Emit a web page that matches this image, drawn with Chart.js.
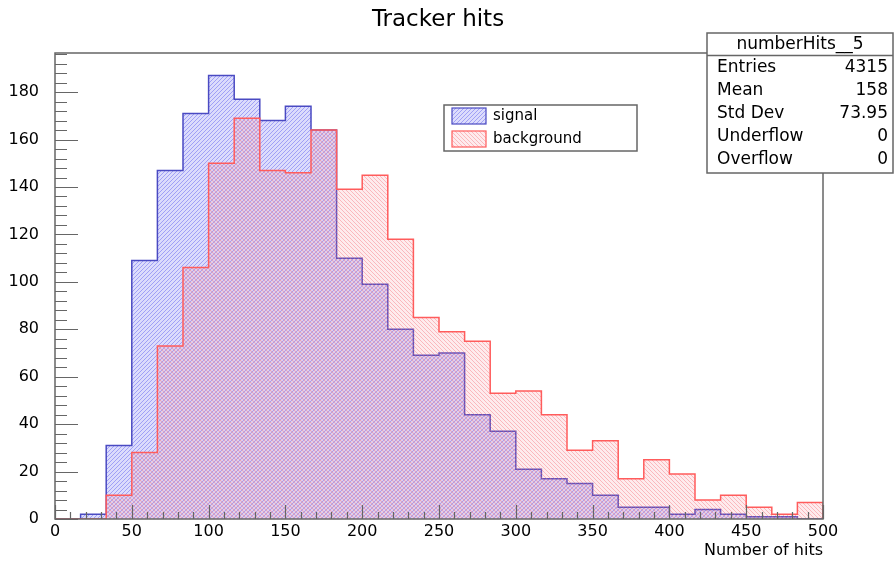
<!DOCTYPE html>
<html lang="en">
<head>
<meta charset="UTF-8">
<title>Tracker hits</title>
<script src="https://cdn.jsdelivr.net/npm/chart.js"></script>
<style>
  html, body { margin: 0; padding: 0; background: #fff; }
</style>
</head>
<body>
<canvas id="hits" width="894" height="562"></canvas>
<script>
// histogram binning
const nBins = 30;
const xLow = 0;
const xHigh = 500;

// bin contents, from the low edge up
const signalCounts = [0, 2, 31, 109, 147, 171, 187, 177, 168, 174,
                      164, 110, 99, 80, 69, 70, 44, 37, 21, 17,
                      15, 10, 5, 5, 2, 4, 2, 1, 1, 0];
const backgroundCounts = [0, 0, 10, 28, 73, 106, 150, 169, 147, 146,
                          164, 139, 145, 118, 85, 79, 75, 53, 54, 44,
                          29, 33, 17, 25, 19, 8, 10, 5, 2, 7];

const seriesNames = ['signal', 'background'];
const plotTitle = 'Tracker hits';
const xTitle = 'Number of hits';
const statsTitle = 'numberHits__5';
const statsNames = ['Entries', 'Mean', 'Std Dev', 'Underflow', 'Overflow'];
const statsValues = ['4315', '158', '73.95', '0', '0'];

const FONT = 'DejaVu Sans';
const frameColor = '#666';
const signalLine = '#4a4ac2';
const backgroundLine = '#ff5c5c';

// step outline: each bin value holds from its low edge to the next one
function stepPoints(counts) {
    const w = (xHigh - xLow) / nBins;
    const pts = counts.map((c, i) => ({ x: xLow + i * w, y: c }));
    pts.push({ x: xHigh, y: 0 });
    return pts;
}

const canvas = document.getElementById('hits');
const ctx = canvas.getContext('2d');

// light hatch fill, dir 1 = "/" and -1 = "\"
function hatch(base, stripe, dir) {
    const c = document.createElement('canvas');
    c.width = 4; c.height = 4;
    const g = c.getContext('2d');
    g.fillStyle = base;
    g.fillRect(0, 0, 4, 4);
    g.fillStyle = stripe;
    for (let i = 0; i < 4; i++) g.fillRect(i, dir > 0 ? 3 - i : i, 1, 1);
    return ctx.createPattern(c, 'repeat');
}

const signalFill = hatch('rgba(130,130,245,0.28)', 'rgba(100,100,240,0.5)', 1);
const backgroundFill = hatch('rgba(250,130,140,0.16)', 'rgba(245,100,110,0.38)', -1);

// title, frame, inward ticks, legend and stats box
const decorations = {
    id: 'decorations',
    afterDraw(chart) {
        const c = chart.ctx;
        const a = chart.chartArea;
        const xs = chart.scales.x, ys = chart.scales.y;
        c.save();
        c.fillStyle = '#000';
        c.font = '23px "' + FONT + '"';
        c.textAlign = 'center';
        c.textBaseline = 'middle';
        c.fillText(plotTitle, 438, 20);

        c.strokeStyle = frameColor;
        c.lineWidth = 1.5;
        c.strokeRect(a.left, a.top, a.right - a.left, a.bottom - a.top);

        c.lineWidth = 1.2;
        c.beginPath();
        for (let v = 0; v <= xHigh; v += 10) {
            const px = Math.round(xs.getPixelForValue(v)) + 0.5;
            const len = v % 50 === 0 ? 14 : 7;
            c.moveTo(px, a.bottom);
            c.lineTo(px, a.bottom - len);
        }
        for (let v = 0; v <= ys.max; v += 4) {
            const py = Math.round(ys.getPixelForValue(v)) + 0.5;
            const len = v % 20 === 0 ? 23 : 12;
            c.moveTo(a.left, py);
            c.lineTo(a.left + len, py);
        }
        c.stroke();

        // legend
        const fills = [signalFill, backgroundFill];
        const lines = [signalLine, backgroundLine];
        c.fillStyle = '#fff';
        c.fillRect(444, 105, 193, 46);
        c.strokeStyle = frameColor;
        c.lineWidth = 1.5;
        c.strokeRect(444, 105, 193, 46);
        c.font = '15px "' + FONT + '"';
        c.textAlign = 'left';
        seriesNames.forEach((name, i) => {
            const y = 108 + i * 23;
            c.fillStyle = fills[i];
            c.fillRect(452, y, 34, 16);
            c.strokeStyle = lines[i];
            c.lineWidth = 1.2;
            c.strokeRect(452, y, 34, 16);
            c.fillStyle = '#000';
            c.fillText(name, 493, y + 8);
        });

        // stats box
        c.fillStyle = '#fff';
        c.fillRect(707, 33, 186, 140);
        c.strokeStyle = frameColor;
        c.lineWidth = 1.5;
        c.strokeRect(707, 33, 186, 140);
        c.beginPath();
        c.moveTo(707, 55.5);
        c.lineTo(893, 55.5);
        c.stroke();
        c.fillStyle = '#000';
        c.font = '17px "' + FONT + '"';
        c.textAlign = 'center';
        c.fillText(statsTitle, 800, 45);
        statsNames.forEach((name, i) => {
            const y = 68 + i * 23;
            c.textAlign = 'left';
            c.fillText(name, 717, y);
            c.textAlign = 'right';
            c.fillText(statsValues[i], 888, y);
        });
        c.restore();
    }
};

new Chart(ctx, {
    type: 'line',
    data: {
        datasets: [
            {
                label: seriesNames[0],
                data: stepPoints(signalCounts),
                stepped: 'before',
                borderColor: signalLine,
                borderWidth: 1.5,
                backgroundColor: signalFill,
                fill: 'origin',
                pointRadius: 0,
                order: 1
            },
            {
                label: seriesNames[1],
                data: stepPoints(backgroundCounts),
                stepped: 'before',
                borderColor: backgroundLine,
                borderWidth: 1.5,
                backgroundColor: backgroundFill,
                fill: 'origin',
                pointRadius: 0,
                order: 0
            }
        ]
    },
    options: {
        responsive: false,
        animation: false,
        devicePixelRatio: 1,
        layout: { padding: { left: 0, right: 71, top: 53, bottom: 0 } },
        plugins: {
            legend: { display: false },
            tooltip: { enabled: false },
            title: { display: false }
        },
        scales: {
            x: {
                type: 'linear',
                min: xLow,
                max: xHigh,
                grid: { display: false },
                border: { display: false },
                ticks: {
                    stepSize: 50,
                    color: '#000',
                    font: { family: FONT, size: 16 },
                    padding: -5,
                    maxRotation: 0,
                    autoSkip: false
                },
                title: {
                    display: true,
                    text: xTitle,
                    align: 'end',
                    color: '#000',
                    font: { family: FONT, size: 16 },
                    padding: { top: 0, bottom: 2 }
                },
                afterFit(s) { s.height = 43; }
            },
            y: {
                min: 0,
                max: 196.5,
                grid: { display: false },
                border: { display: false },
                ticks: {
                    stepSize: 20,
                    color: '#000',
                    font: { family: FONT, size: 16 },
                    padding: 8
                },
                afterBuildTicks(s) { s.ticks = s.ticks.filter(t => t.value % 20 === 0); },
                afterFit(s) { s.width = 55; }
            }
        }
    },
    plugins: [decorations]
});
</script>
</body>
</html>
